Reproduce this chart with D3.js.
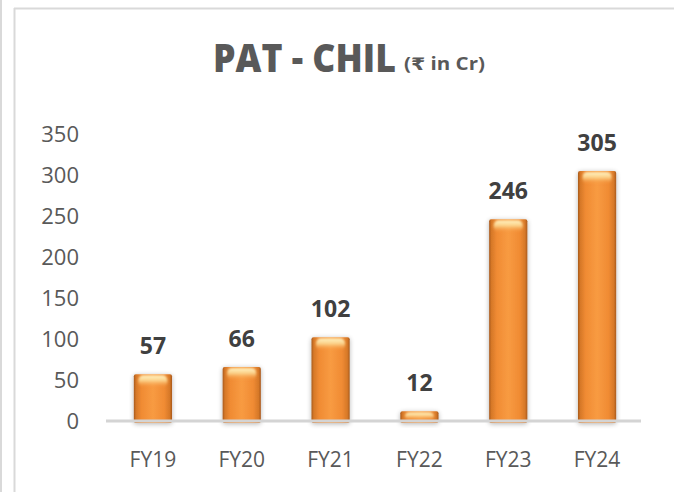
<!DOCTYPE html>
<html><head><meta charset="utf-8">
<script src="https://cdn.jsdelivr.net/npm/d3@7"></script>
<style>html,body{margin:0;padding:0;background:#fff;}svg{display:block;}</style>
</head><body>
<script>
const categories = ["FY19","FY20","FY21","FY22","FY23","FY24"];
const values = [57, 66, 102, 12, 246, 305];
const yTicks = [0, 50, 100, 150, 200, 250, 300, 350];
const titleMain = "PAT - CHIL";
const titleUnit = "(₹ in Cr)";

const W = 674, H = 492;
const svg = d3.select("body").append("svg").attr("width", W).attr("height", H);
const defs = svg.append("defs");

const g1 = defs.append("linearGradient").attr("id","barGrad").attr("x1","0").attr("x2","1").attr("y1","0").attr("y2","0");
[["0%","#a85a1c"],["6%","#d67828"],["20%","#f08b33"],["50%","#f89b42"],["80%","#f08b33"],["94%","#d67828"],["100%","#a85a1c"]]
  .forEach(([o,c]) => g1.append("stop").attr("offset",o).attr("stop-color",c));
const g2 = defs.append("linearGradient").attr("id","capGrad").attr("x1","0").attr("x2","0").attr("y1","0").attr("y2","1");
[["0%","#fff4c4",1],["45%","#fddc96",0.85],["100%","#f89b42",0]]
  .forEach(([o,c,a]) => g2.append("stop").attr("offset",o).attr("stop-color",c).attr("stop-opacity",a));
const f = defs.append("filter").attr("id","glow").attr("x","-40%").attr("y","-40%").attr("width","180%").attr("height","180%");
f.append("feGaussianBlur").attr("in","SourceAlpha").attr("stdDeviation",2.5).attr("result","b");
f.append("feOffset").attr("in","b").attr("dx",0).attr("dy",1).attr("result","o");
f.append("feComponentTransfer").attr("in","o").attr("result","s").append("feFuncA").attr("type","linear").attr("slope",0.3);
const m = f.append("feMerge"); m.append("feMergeNode").attr("in","s"); m.append("feMergeNode").attr("in","SourceGraphic");
const fb = defs.append("filter").attr("id","soft").attr("x","-20%").attr("y","-50%").attr("width","140%").attr("height","200%");
fb.append("feGaussianBlur").attr("stdDeviation",1.2);

// frame lines
svg.append("line").attr("x1",1).attr("x2",1).attr("y1",0).attr("y2",H).attr("stroke","#d9d9d9").attr("stroke-width",2);
svg.append("line").attr("x1",14.5).attr("x2",14.5).attr("y1",8).attr("y2",H).attr("stroke","#d9d9d9").attr("stroke-width",2);
svg.append("line").attr("x1",14).attr("x2",W).attr("y1",8.5).attr("y2",8.5).attr("stroke","#d9d9d9").attr("stroke-width",2);

const x = d3.scaleBand().domain(categories).range([108.5, 641.5]).paddingInner(0.57).paddingOuter(0.285);
const y = d3.scaleLinear().domain([0, 350]).range([421, 134]);

// y axis labels
const yAxis = d3.axisLeft(y).tickValues(yTicks).tickSize(0).tickPadding(0);
const ya = svg.append("g").attr("transform","translate(79,0)").call(yAxis);
ya.select(".domain").remove();
ya.selectAll("text").attr("font-family","'Open Sans', sans-serif").attr("font-size",22).attr("fill","#595959").attr("dy","0.35em");

// bars
const bars = svg.append("g").selectAll("g").data(values).enter().append("g");
bars.append("rect")
  .attr("x",(d,i)=>x(categories[i])).attr("width",x.bandwidth())
  .attr("y",d=>y(d)).attr("height",d=>y(0)-y(d)+2)
  .attr("rx",2).attr("fill","url(#barGrad)").attr("filter","url(#glow)");
bars.append("rect")
  .attr("x",(d,i)=>x(categories[i])+x.bandwidth()*0.12).attr("width",x.bandwidth()*0.76)
  .attr("y",d=>y(d)+1).attr("height",d=>Math.min(12,(y(0)-y(d))*0.8))
  .attr("rx",5).attr("fill","url(#capGrad)").attr("filter","url(#soft)");

// x axis
const xAxis = d3.axisBottom(x).tickSize(0).tickPadding(0);
const xa = svg.append("g").attr("transform","translate(0,421)").call(xAxis);
xa.select(".domain").remove();
xa.selectAll("text").attr("font-family","'Open Sans', sans-serif").attr("font-size",21).attr("fill","#595959").attr("dy","0").attr("y",46);
svg.append("line").attr("x1",106).attr("x2",641).attr("y1",y(0)).attr("y2",y(0)).attr("stroke","#d4d4d4").attr("stroke-width",3);

// data labels
svg.append("g").selectAll("text").data(values).enter().append("text")
  .attr("x",(d,i)=>x(categories[i])+x.bandwidth()/2).attr("y",d=>y(d)-20)
  .attr("text-anchor","middle").attr("font-family","'Open Sans', sans-serif").attr("font-weight","bold")
  .attr("font-size",23).attr("fill","#404040").text(d=>d);

// title: fit each part to its width with a horizontal scale
function fitText(str, left, base, width, size, weight) {
  const t = svg.append("text").attr("x",0).attr("y",0).attr("fill","#595959")
    .attr("font-family","'Open Sans', 'DejaVu Sans', sans-serif")
    .attr("font-weight",weight).attr("font-size",size).text(str);
  const w = t.node().getComputedTextLength();
  t.attr("transform",`translate(${left},${base}) scale(${width/w},1)`);
  return t;
}
fitText(titleMain, 213, 72, 183, 39, "800");
fitText(titleUnit, 404, 70, 81, 17, "bold");
</script>
</body></html>
